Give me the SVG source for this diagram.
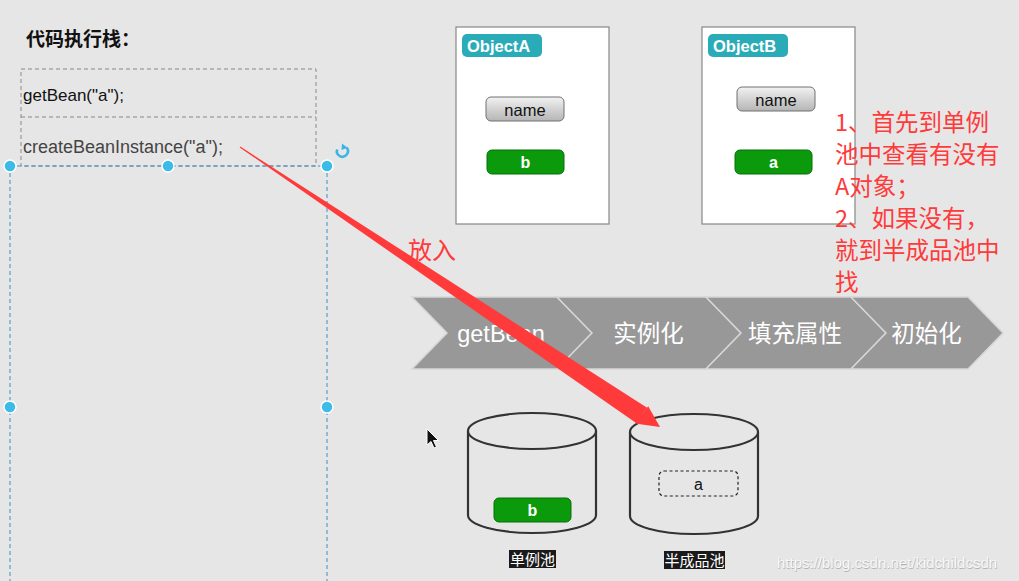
<svg xmlns="http://www.w3.org/2000/svg" width="1019" height="581" viewBox="0 0 1019 581">
<defs>
<linearGradient id="gbtn" x1="0" y1="0" x2="0" y2="1">
<stop offset="0" stop-color="#f2f2f2"/>
<stop offset="1" stop-color="#b5b5b5"/>
</linearGradient>
<filter id="wm" x="-5%" y="-20%" width="110%" height="140%">
<feDropShadow dx="0.5" dy="1" stdDeviation="0.6" flood-color="#b0b0b0"/>
</filter>
</defs>
<style>
text{font-family:"Liberation Sans","Noto Sans CJK SC",sans-serif}
.cjk{font-family:"Noto Sans CJK SC","Liberation Sans",sans-serif}
.sel{fill:none;stroke:#3a8fc4;stroke-width:1;stroke-dasharray:4 3}
.hdl{fill:#3bbbe8;stroke:#ffffff;stroke-width:1.5}
.obj{fill:#ffffff;stroke:#888888;stroke-width:1.2}
.tag{fill:#2aacb8}
.tagt{fill:#ffffff;font-weight:bold;font-size:16.5px}
.nm{fill:url(#gbtn);stroke:#707070;stroke-width:1}
.nmt{fill:#111;font-size:16.5px}
.grn{fill:#0b9a0b;stroke:#066e06;stroke-width:1}
.grnt{fill:#ffffff;font-weight:bold;font-size:16px}
.chev{fill:#989898;stroke:#d6d6d6;stroke-width:1.5}
.chevt{fill:#ffffff;font-size:23.5px}
.cyl{fill:#e6e6e6;stroke:#333333;stroke-width:2.2}
.red{fill:#ff3a3a;font-size:23.5px}
.lbl{fill:#1a1a1a}
.lblt{fill:#ffffff;font-size:15px}
</style>
<rect width="1019" height="581" fill="#e6e6e6"/>

<g id="stack">
<text x="26" y="46" class="cjk" font-size="19" font-weight="bold" fill="#111">代码执行栈：</text>
<rect x="21" y="69" width="295" height="97" fill="none" stroke="#8a8a8a" stroke-width="1" stroke-dasharray="4 3"/>
<line x1="21" y1="117" x2="316" y2="117" stroke="#8a8a8a" stroke-width="1" stroke-dasharray="4 3"/>
<text x="23" y="101" font-size="17" fill="#111">getBean("a");</text>
<text x="23" y="153" font-size="18" fill="#444">createBeanInstance("a");</text>
</g>

<g id="selection">
<path class="sel" d="M10,166 H327 M10,166 V581 M327,166 V581"/>
<circle class="hdl" cx="10" cy="166" r="6"/>
<circle class="hdl" cx="168" cy="166" r="6"/>
<circle class="hdl" cx="327" cy="166" r="6"/>
<circle class="hdl" cx="10" cy="407" r="6"/>
<circle class="hdl" cx="327" cy="407" r="6"/>
<path d="M346.5,147.5 A5.5,5.5 0 1 1 337.2,149.5" fill="none" stroke="#3ab5e6" stroke-width="2.6"/>
<polygon points="342,143.5 347.5,147.8 341.5,150" fill="#3ab5e6"/>
</g>

<g id="objectA">
<rect class="obj" x="456" y="27" width="153" height="197"/>
<rect class="tag" x="462" y="34" width="80" height="23" rx="5"/>
<text class="tagt" x="467" y="51.5">ObjectA</text>
<rect class="nm" x="486" y="97" width="78" height="24" rx="5"/>
<text class="nmt" x="525" y="115.5" text-anchor="middle">name</text>
<rect class="grn" x="487" y="150" width="77" height="24" rx="5"/>
<text class="grnt" x="525.5" y="168" text-anchor="middle">b</text>
</g>

<g id="objectB">
<rect class="obj" x="702" y="27" width="153" height="197"/>
<rect class="tag" x="708" y="34" width="80" height="23" rx="5"/>
<text class="tagt" x="713" y="51.5">ObjectB</text>
<rect class="nm" x="737" y="87" width="78" height="24" rx="5"/>
<text class="nmt" x="776" y="105.5" text-anchor="middle">name</text>
<rect class="grn" x="735" y="150" width="77" height="24" rx="5"/>
<text class="grnt" x="773.5" y="168" text-anchor="middle">a</text>
</g>

<g id="note">
<text class="red cjk" x="835" y="131">1、首先到单例</text>
<text class="red cjk" x="835" y="163">池中查看有没有</text>
<text class="red cjk" x="835" y="195">A对象；</text>
<text class="red cjk" x="835" y="227">2、如果没有，</text>
<text class="red cjk" x="835" y="259">就到半成品池中</text>
<text class="red cjk" x="835" y="291">找</text>
</g>

<g id="process">
<polygon class="chev" points="412,297 557,297 592,333 557,369 412,369 447,333"/>
<polygon class="chev" points="557,297 706,297 741,333 706,369 557,369 592,333"/>
<polygon class="chev" points="706,297 851,297 886,333 851,369 706,369 741,333"/>
<polygon class="chev" points="851,297 968,297 1003,333 968,369 851,369 886,333"/>
<text class="chevt" x="501" y="341.5" text-anchor="middle">getBean</text>
<text class="chevt cjk" x="648.5" y="341.5" text-anchor="middle">实例化</text>
<text class="chevt cjk" x="795" y="341.5" text-anchor="middle">填充属性</text>
<text class="chevt cjk" x="926.5" y="341.5" text-anchor="middle">初始化</text>
</g>

<g id="singletonPool">
<path class="cyl" d="M468,431 V515 A64,18 0 0 0 596,515 V431"/>
<ellipse class="cyl" cx="532" cy="431" rx="64" ry="18"/>
<rect class="grn" x="494" y="498" width="77" height="24" rx="5"/>
<text class="grnt" x="532.5" y="516" text-anchor="middle">b</text>
<rect class="lbl" x="509" y="550" width="47" height="18"/>
<text class="lblt cjk" x="532.5" y="564.5" text-anchor="middle">单例池</text>
</g>

<g id="earlyPool">
<path class="cyl" d="M630,432 V516 A64,18 0 0 0 758,516 V432"/>
<ellipse class="cyl" cx="694" cy="432" rx="64" ry="18"/>
<rect x="659" y="471" width="79" height="25" rx="5" fill="none" stroke="#222" stroke-width="1.2" stroke-dasharray="3 2.5"/>
<text x="698.5" y="489.5" text-anchor="middle" font-size="16" fill="#111">a</text>
<rect class="lbl" x="664" y="551" width="61" height="18"/>
<text class="lblt cjk" x="694.5" y="565.5" text-anchor="middle">半成品池</text>
</g>

<g id="connectors">
<polygon points="239.7,147.4 240.3,146.6 647.1,407.7 636.1,422.9" fill="#ff3a3a"/>
<polygon points="660,427 634.8,423.6 648.2,406.2" fill="#ff3a3a"/>
<text class="cjk" x="408" y="259" font-size="24" fill="#ff3a3a">放入</text>
</g>

<g id="cursor">
<polygon points="427,429 427,445 431,441.5 434,448 436.5,447 433.5,440.5 438.5,440.5" fill="#111" stroke="#ffffff" stroke-width="1"/>
</g>

<g id="watermark">
<text x="777" y="568" font-size="15" fill="#f6f6f6" filter="url(#wm)">https://blog.csdn.net/kidchildcsdn</text>
</g>
</svg>
